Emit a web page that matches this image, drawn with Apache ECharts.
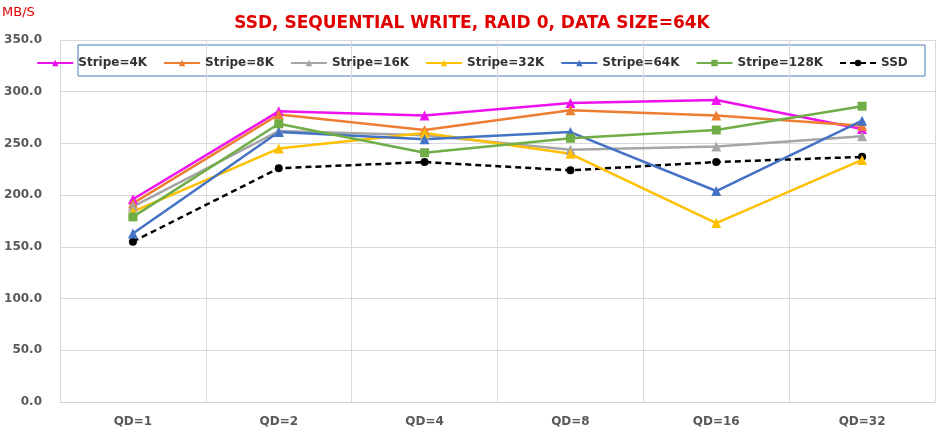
<!DOCTYPE html><html><head><meta charset="utf-8"><script src="https://cdn.jsdelivr.net/npm/echarts@6/dist/echarts.min.js"></script>
<style>html,body{margin:0;padding:0;background:#fff}#c{width:944px;height:437px}</style></head><body><div id="c"></div>
<script>
const categories=['QD=1','QD=2','QD=4','QD=8','QD=16','QD=32'];
const stripe4K=[196,281,277,289,292,264];
const stripe8K=[192,278,263,282,277,267];
const stripe16K=[189,262,258,244,247,257];
const stripe32K=[184,245,260,240,173,234];
const stripe64K=[163,261,254,261,204,272];
const stripe128K=[179,269,241,255,263,286];
const ssd=[155,226,232,224,232,237];
const names=['Stripe=4K','Stripe=8K','Stripe=16K','Stripe=32K','Stripe=64K','Stripe=128K','SSD'];
const colors=['#ee10ee','#ed7d31','#a5a5a5','#ffc000','#4472c4','#70ad47','#000000'];
const symbols=['triangle','triangle','triangle','triangle','triangle','rect','circle'];
const data=[stripe4K,stripe8K,stripe16K,stripe32K,stripe64K,stripe128K,ssd];
const chart=echarts.init(document.getElementById('c'));
chart.setOption({
 animation:false,
 title:{text:'SSD, SEQUENTIAL WRITE, RAID 0, DATA SIZE=64K',left:'center',top:10,textStyle:{color:'#e00000',fontSize:17,fontWeight:'bold',fontFamily:'DejaVu Sans'}},
 graphic:[{type:'text',left:2,top:6,style:{text:'MB/S',fill:'#e00000',fontSize:13,fontFamily:'DejaVu Sans'}},
  {type:'rect',shape:{x:78,y:45,width:847,height:31},style:{fill:'none',stroke:'#4a7ab8',lineWidth:1}}],
 legend:{top:52,left:'center',itemGap:16,itemWidth:36,itemHeight:8,textStyle:{fontSize:12,fontWeight:'bold',fontFamily:'DejaVu Sans',color:'#333'},data:names},
 grid:{left:60,right:9,top:40,bottom:35},
 xAxis:{type:'category',data:categories,boundaryGap:true,axisTick:{show:false},axisLine:{lineStyle:{color:'#d0d0d0'}},
  splitLine:{show:true,lineStyle:{color:'#d9d9d9'}},axisLabel:{color:'#595959',fontWeight:'bold',fontSize:12,fontFamily:'DejaVu Sans',margin:14}},
 yAxis:{type:'value',min:0,max:350,interval:50,axisLine:{show:false},axisTick:{show:false},
  splitLine:{lineStyle:{color:'#d9d9d9'}},axisLabel:{color:'#595959',fontWeight:'bold',fontSize:12,fontFamily:'DejaVu Sans',formatter:v=>v.toFixed(1),margin:18}},
 series:names.map((n,i)=>({name:n,type:'line',data:data[i],symbol:symbols[i],symbolSize:i==5?9:(i==6?8:10),
  itemStyle:{color:colors[i]},lineStyle:{color:colors[i],width:2.5,type:i==6?[6,4]:'solid'},z:i==6?1:2}))
});
</script></body></html>
